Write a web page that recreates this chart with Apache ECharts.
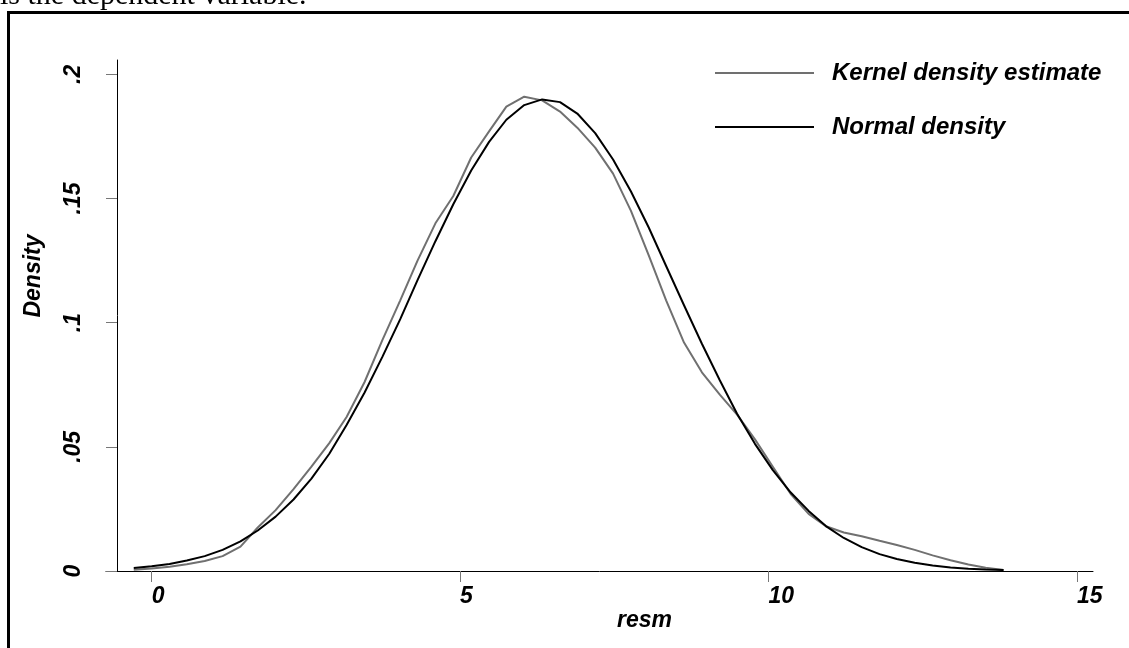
<!DOCTYPE html>
<html>
<head>
<meta charset="utf-8">
<script src="https://cdn.jsdelivr.net/npm/echarts@6/dist/echarts.min.js"></script>
<style>
html,body{margin:0;padding:0;background:#fff;}
#chart{width:1129px;height:648px;}
</style>
</head>
<body>
<div id="chart"></div>
<script>
// x positions (resm) where both densities are evaluated
const resm = [-0.29, 0.00, 0.29, 0.57, 0.86, 1.15, 1.44, 1.72, 2.01, 2.30,
  2.59, 2.88, 3.16, 3.45, 3.74, 4.03, 4.31, 4.60, 4.89, 5.18,
  5.47, 5.75, 6.04, 6.33, 6.62, 6.90, 7.19, 7.48, 7.77, 8.06,
  8.34, 8.63, 8.92, 9.21, 9.49, 9.78, 10.07, 10.36, 10.65, 10.93,
  11.22, 11.51, 11.80, 12.08, 12.37, 12.66, 12.95, 13.24, 13.52, 13.81];
const kernelDensity = [0.0005, 0.0010, 0.0017, 0.0027, 0.0040, 0.0060, 0.0098, 0.0175, 0.0245, 0.0330,
  0.0420, 0.0515, 0.0620, 0.0760, 0.0930, 0.1090, 0.1250, 0.1400, 0.1510, 0.1665,
  0.1770, 0.1870, 0.1910, 0.1895, 0.1850, 0.1785, 0.1705, 0.1600, 0.1450, 0.1270,
  0.1090, 0.0920, 0.0800, 0.0710, 0.0630, 0.0530, 0.0420, 0.0310, 0.0230, 0.0180,
  0.0155, 0.0140, 0.0122, 0.0105, 0.0085, 0.0063, 0.0043, 0.0026, 0.0013, 0.0004];
const normalDensity = [0.0012, 0.0019, 0.0028, 0.0042, 0.0060, 0.0085, 0.0119, 0.0163, 0.0219, 0.0288,
  0.0372, 0.0472, 0.0588, 0.0718, 0.0862, 0.1014, 0.1171, 0.1328, 0.1477, 0.1613,
  0.1728, 0.1817, 0.1876, 0.1899, 0.1888, 0.1842, 0.1763, 0.1657, 0.1528, 0.1382,
  0.1228, 0.1070, 0.0915, 0.0768, 0.0633, 0.0512, 0.0406, 0.0316, 0.0242, 0.0181,
  0.0133, 0.0096, 0.0068, 0.0048, 0.0033, 0.0022, 0.0014, 0.0009, 0.0006, 0.0004];
const xTicks = [0, 5, 10, 15];
const yTicks = [0, 0.05, 0.1, 0.15, 0.2];
const yTickLabels = ['0', '.05', '.1', '.15', '.2'];
const seriesNames = ['Kernel density estimate', 'Normal density'];

const FONT = '"Liberation Sans", Arial, Helvetica, sans-serif';
const txt = {fontFamily: FONT, fontStyle: 'italic', fontWeight: 'bold', fontSize: 23, color: '#000'};

const chart = echarts.init(document.getElementById('chart'), null, {renderer: 'canvas'});
chart.setOption({
  animation: false,
  backgroundColor: '#fff',
  grid: {left: 106, right: 36, top: 60, bottom: 77, containLabel: false},
  legend: {
    orient: 'vertical', left: 710, top: 56, itemWidth: 99, itemHeight: 2, itemGap: 30,
    icon: 'rect', data: seriesNames,
    textStyle: Object.assign({}, txt, {fontSize: 24, lineHeight: 24, padding: [0, 0, 0, 13]})
  },
  xAxis: {
    type: 'value', min: -0.74, max: 15.26,
    axisLine: {show: true, onZero: false, lineStyle: {color: '#000', width: 1}},
    axisTick: {show: true, customValues: xTicks, length: 11, lineStyle: {color: '#777', width: 1}},
    axisLabel: Object.assign({}, txt, {customValues: xTicks, align: 'left', margin: 14, lineHeight: 24,
      formatter: v => String(v)}),
    splitLine: {show: false}
  },
  yAxis: {
    type: 'value', min: 0, max: 0.20576, offset: -11,
    axisLine: {show: true, onZero: false, lineStyle: {color: '#000', width: 1}},
    axisTick: {show: true, customValues: yTicks, length: 11, lineStyle: {color: '#777', width: 1}},
    axisLabel: Object.assign({}, txt, {customValues: yTicks, rotate: 90, margin: 31, lineHeight: 24,
      formatter: v => { const i = yTicks.findIndex(t => Math.abs(t - v) < 1e-9); return i >= 0 ? yTickLabels[i] : ''; }}),
    splitLine: {show: false}
  },
  series: [
    {name: seriesNames[0], type: 'line', showSymbol: false, symbol: 'none',
     color: '#707070', lineStyle: {color: '#707070', width: 2},
     data: resm.map((x, i) => [x, kernelDensity[i]])},
    {name: seriesNames[1], type: 'line', showSymbol: false, symbol: 'none',
     color: '#000', lineStyle: {color: '#000', width: 2},
     data: resm.map((x, i) => [x, normalDensity[i]])}
  ],
  graphic: [
    {type: 'rect', silent: true, shape: {x: 8.5, y: 12.5, width: 1140, height: 660},
     style: {fill: null, stroke: '#000', lineWidth: 3}},
    {type: 'text', silent: true, x: 0, y: 11,
     style: {text: 'is the dependent variable.', font: '30px "Liberation Serif", "Times New Roman", serif', fill: '#000', textAlign: 'left', textVerticalAlign: 'bottom'}},
    {type: 'text', silent: true, x: 34, y: 276, rotation: Math.PI / 2,
     style: {text: 'Density', font: 'italic bold 23px ' + FONT, fill: '#000', textAlign: 'center', textVerticalAlign: 'middle'}},
    {type: 'text', silent: true, x: 644.5, y: 621,
     style: {text: 'resm', font: 'italic bold 23px ' + FONT, fill: '#000', textAlign: 'center', textVerticalAlign: 'middle'}}
  ]
});
</script>
</body>
</html>
